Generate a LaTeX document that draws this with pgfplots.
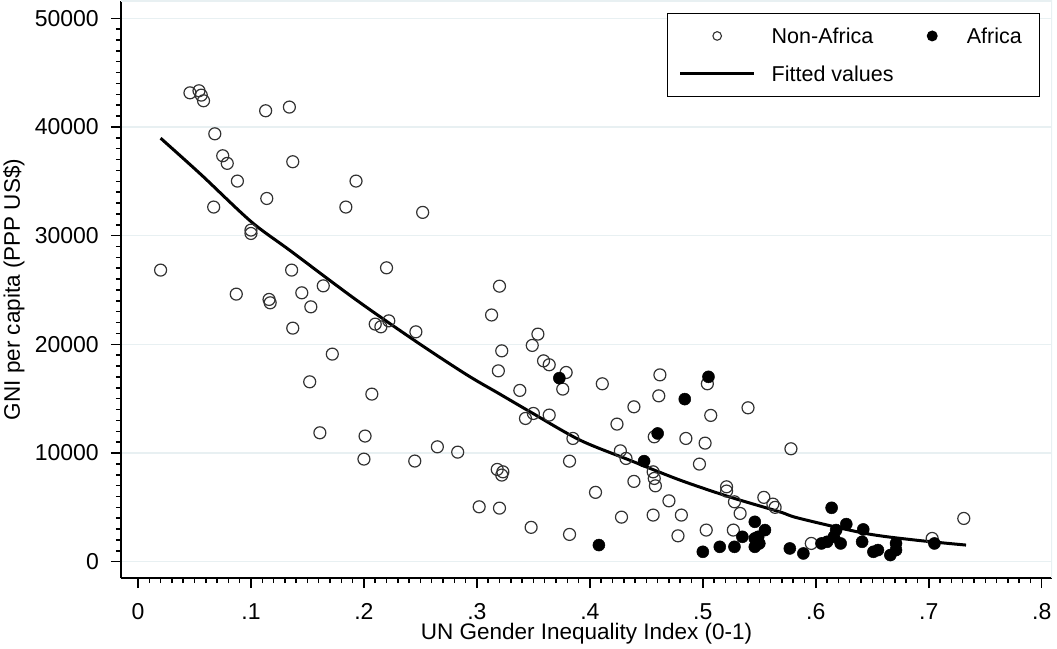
\documentclass[border=0pt]{standalone}
\usepackage{fontspec}
\setmainfont{Liberation Sans}
\usepackage{pgfplots}
\pgfplotsset{compat=1.18}
\definecolor{gridc}{RGB}{232,240,242}
\definecolor{markc}{RGB}{50,50,50}

\pgfplotstableread{
x y
0.020 26830
0.046 43140
0.054 43330
0.056 42930
0.058 42410
0.113 41490
0.134 41830
0.068 39370
0.075 37350
0.079 36650
0.137 36800
0.088 35020
0.193 35020
0.067 32630
0.114 33420
0.184 32630
0.252 32140
0.100 30510
0.100 30200
0.136 26830
0.220 27040
0.087 24620
0.116 24130
0.117 23820
0.145 24740
0.164 25380
0.153 23450
0.137 21490
0.210 21860
0.215 21610
0.222 22160
0.246 21150
0.172 19100
0.152 16550
0.207 15420
0.161 11860
0.201 11560
0.200 9440
0.245 9260
0.265 10570
0.283 10080
0.302 5050
0.320 4930
0.320 25350
0.313 22700
0.354 20940
0.349 19900
0.322 19400
0.359 18480
0.364 18120
0.319 17560
0.379 17410
0.376 15880
0.338 15760
0.411 16370
0.462 17190
0.504 16370
0.461 15260
0.439 14250
0.540 14160
0.507 13460
0.350 13640
0.343 13180
0.364 13490
0.424 12660
0.457 11490
0.385 11340
0.485 11340
0.502 10910
0.578 10390
0.382 9250
0.427 10200
0.432 9500
0.497 8980
0.318 8490
0.323 8270
0.322 7970
0.456 8270
0.457 7660
0.458 6980
0.439 7390
0.405 6380
0.470 5600
0.428 4100
0.456 4290
0.481 4290
0.348 3160
0.382 2510
0.478 2380
0.503 2910
0.521 6890
0.521 6500
0.528 5510
0.533 4440
0.527 2910
0.554 5920
0.562 5300
0.564 5000
0.596 1680
0.731 3980
0.703 2140
}\nonafrica

\pgfplotstableread{
x y
0.373 16890
0.505 17010
0.484 14960
0.460 11800
0.448 9250
0.408 1530
0.500 910
0.515 1370
0.528 1370
0.535 2290
0.546 3670
0.555 2910
0.546 2140
0.550 1680
0.546 1370
0.549 2290
0.577 1220
0.589 760
0.605 1680
0.610 1830
0.614 4960
0.618 2910
0.627 3460
0.622 1680
0.616 2290
0.642 2970
0.641 1830
0.651 910
0.655 1070
0.666 610
0.671 1070
0.671 1680
0.705 1680
}\africa

\pgfplotstableread{
x y
0.020 38970
0.056 35600
0.100 31300
0.135 28600
0.193 24100
0.247 20200
0.291 17200
0.319 15500
0.347 13800
0.391 11200
0.435 9350
0.480 7500
0.524 5950
0.568 4590
0.585 4000
0.644 2600
0.688 1990
0.733 1530
}\fitted

\begin{document}
\begin{tikzpicture}[font=\fontsize{21.5}{25}\selectfont]
\begin{axis}[
  at={(0pt,0pt)}, anchor=south west,
  width=931pt, height=577pt, scale only axis,
  xmin=-0.01505, xmax=0.8091, ymin=-1500, ymax=51590,
  axis lines*=left,
  axis line style={-, line width=1.6pt, black},
  tick align=outside,
  major tick length=10pt, minor tick length=5pt,
  tick style={black, line width=1.5pt},
  minor x tick num=9, minor y tick num=9,
  scaled x ticks=false, scaled y ticks=false,
  xtick={0,0.1,0.2,0.3,0.4,0.5,0.6,0.7,0.8},
  xticklabels={0,.1,.2,.3,.4,.5,.6,.7,.8},
  ytick={0,10000,20000,30000,40000,50000},
  yticklabels={0,10000,20000,30000,40000,50000},
  every tick label/.append style={font=\fontsize{23}{26}\selectfont, inner sep=1pt},
  xticklabel style={text depth=0pt},
  xticklabel shift=14.6pt,
  yticklabel shift=11pt,
  ymajorgrids, major grid style={gridc, line width=1.5pt},
  xlabel={UN Gender Inequality Index (0-1)},
  ylabel={GNI per capita (PPP US\$)},
  every axis x label/.style={at={(axis description cs:0.5,-0.0970)}, anchor=center, inner sep=0pt, font=\fontsize{22.5}{26}\selectfont},
  every axis y label/.style={at={(axis description cs:-0.115,0.5)}, rotate=90, anchor=center, inner sep=0pt, font=\fontsize{22.5}{26}\selectfont},
  legend columns=2,
  legend cell align=left,
  legend style={at={(rel axis cs:0.5865,0.979)}, anchor=north west,
    draw=black, line width=1.3pt, fill=white,
    inner xsep=11pt, inner ysep=14.5pt, row sep=22.6pt,
    nodes={inner sep=0pt, text height=15.4pt, text depth=0pt},
    /tikz/every odd column/.append style={column sep=16pt},
    /tikz/every even column/.append style={column sep=10pt}},
]
\addplot[only marks, mark=o, mark size=6pt, draw=markc, mark options={line width=1.2pt},
  legend image code/.code={\path (0pt,-5pt) (74pt,5pt); \draw[markc, line width=1.1pt] (37pt,0pt) circle[radius=4.3pt];}]
  table {\nonafrica};
\addlegendentry{Non-Africa}
\addplot[only marks, mark=*, mark size=6pt, black, mark options={line width=0.5pt},
  legend image code/.code={\path (0pt,-5pt) (46pt,5pt); \fill[black] (28pt,0pt) circle[radius=4.8pt];}]
  table {\africa};
\addlegendentry{Africa\rule{7pt}{0pt}}
\addplot[black, line width=3pt, no marks, smooth,
  legend image code/.code={\path (0pt,-5pt) (74pt,5pt); \draw[black, line width=3pt] (0pt,0pt) -- (74pt,0pt);}]
  table {\fitted};
\addlegendentry{Fitted values}
\draw[gridc, line width=1.5pt] (rel axis cs:0,1) -- (rel axis cs:1,1) -- (rel axis cs:1,0);
\end{axis}
\pgfresetboundingbox
\useasboundingbox (-121pt,-70pt) rectangle (936pt,578pt);
\end{tikzpicture}
\end{document}
